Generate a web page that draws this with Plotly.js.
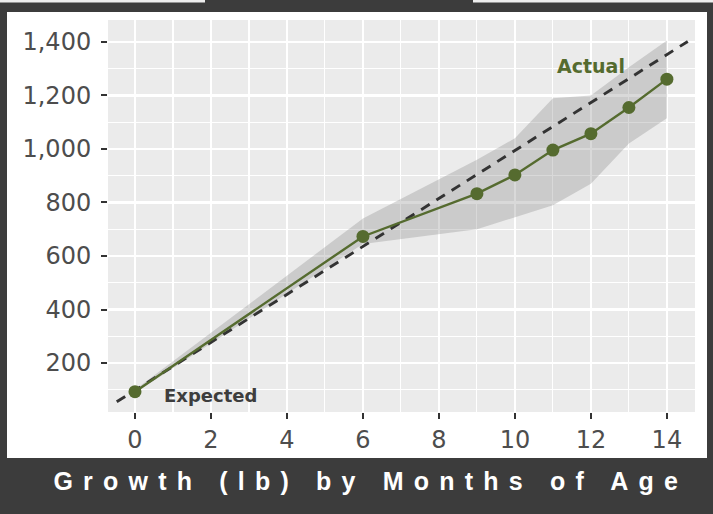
<!DOCTYPE html>
<html>
<head>
<meta charset="utf-8">
<script src="https://cdn.plot.ly/plotly-3.0.1.min.js"></script>
<style>
  html, body { margin: 0; padding: 0; background: #3c3c3c; }
  #chart { width: 713px; height: 514px; }
  .gtitle { letter-spacing: 10.2px; }
</style>
</head>
<body>
<div id="chart"></div>
<script>
// ---- data ----
const months = [0, 6, 9, 10, 11, 12, 13, 14];
const actualLb = [93, 673, 833, 903, 996, 1057, 1155, 1261];
const bandUpperLb = [100, 740, 960, 1040, 1190, 1200, 1305, 1405];
const bandLowerLb = [88, 645, 700, 745, 790, 870, 1020, 1115];
const expectedMonths = [-0.48, 14.55];
const expectedLb = [55, 1402];
const xTickVals = [0, 2, 4, 6, 8, 10, 12, 14];
const yTickVals = [200, 400, 600, 800, 1000, 1200, 1400];
const chartTitle = "Growth (lb) by Months of Age";
const actualLabel = "Actual";
const expectedLabel = "Expected";

const green = "#556b2f";

const traces = [
  { x: months, y: bandLowerLb, type: "scatter", mode: "lines",
    line: { width: 0, color: "rgba(0,0,0,0)" }, hoverinfo: "skip", showlegend: false },
  { x: months, y: bandUpperLb, type: "scatter", mode: "lines", fill: "tonexty",
    fillcolor: "rgba(128,128,128,0.3)",
    line: { width: 0, color: "rgba(0,0,0,0)" }, hoverinfo: "skip", showlegend: false },
  { x: expectedMonths, y: expectedLb, type: "scatter", mode: "lines",
    line: { color: "#333333", width: 2.9, dash: "10px,8px" }, showlegend: false },
  { x: months, y: actualLb, type: "scatter", mode: "lines+markers",
    line: { color: green, width: 2.4 },
    marker: { color: green, size: 13 }, showlegend: false }
];

const W = 713, H = 514, ml = 108, mr = 18, mt = 20, mb = 102;
const pw = W - ml - mr, ph = H - mt - mb;
const px = v => (v - ml) / pw;
const py = v => (H - mb - v) / ph;

const layout = {
  width: W, height: H,
  margin: { l: ml, r: mr, t: mt, b: mb, pad: 0 },
  paper_bgcolor: "#3c3c3c",
  plot_bgcolor: "rgba(0,0,0,0)",
  showlegend: false,
  font: { family: "DejaVu Sans", color: "#4d4d4d" },
  title: {
    text: chartTitle,
    font: { family: "Liberation Sans", size: 25, weight: 700, color: "#ffffff" },
    xref: "container", yref: "container",
    x: 0.52, xanchor: "center", y: 0.064, yanchor: "middle"
  },
  xaxis: {
    range: [-0.71, 14.74], tickvals: xTickVals, ticks: "outside", ticklen: 6, tickwidth: 2,
    tickcolor: "#333333", tickfont: { size: 24, color: "#4d4d4d", family: "DejaVu Sans" },
    showgrid: true, gridcolor: "#ffffff", gridwidth: 2.2,
    minor: { dtick: 1, tick0: 1, showgrid: true, gridcolor: "#ffffff", gridwidth: 1.1, ticks: "" },
    zeroline: false, showline: false, fixedrange: true
  },
  yaxis: {
    range: [17, 1482], tickvals: yTickVals, tickformat: ",d", ticks: "outside", ticklen: 6, tickwidth: 2,
    tickcolor: "#333333", tickfont: { size: 24, color: "#4d4d4d", family: "DejaVu Sans" },
    ticklabelstandoff: 5,
    showgrid: true, gridcolor: "#ffffff", gridwidth: 2.2,
    minor: { dtick: 100, tick0: 100, showgrid: true, gridcolor: "#ffffff", gridwidth: 1.1, ticks: "" },
    zeroline: false, showline: false, fixedrange: true
  },
  shapes: [
    { type: "rect", xref: "paper", yref: "paper", layer: "below",
      x0: px(7), x1: px(707), y0: py(458), y1: py(12),
      fillcolor: "#ffffff", line: { width: 0 } },
    { type: "rect", xref: "x domain", yref: "y domain", layer: "below",
      x0: 0, x1: 1, y0: 0, y1: 1, fillcolor: "#ebebeb", line: { width: 0 } },
    { type: "rect", xref: "paper", yref: "paper", layer: "below",
      x0: px(0), x1: px(205), y0: py(2.5), y1: py(0),
      fillcolor: "#eeeeee", line: { width: 0 } },
    { type: "rect", xref: "paper", yref: "paper", layer: "below",
      x0: px(473), x1: px(713), y0: py(2.5), y1: py(0),
      fillcolor: "#eeeeee", line: { width: 0 } }
  ],
  annotations: [
    { x: 12, y: 1310, xref: "x", yref: "y", text: actualLabel, showarrow: false,
      font: { family: "DejaVu Sans", size: 19, weight: 700, color: green } },
    { x: 2, y: 80, xref: "x", yref: "y", text: expectedLabel, showarrow: false,
      font: { family: "DejaVu Sans", size: 18, weight: 700, color: "#3d3d3d" } }
  ]
};

Plotly.newPlot("chart", traces, layout, { staticPlot: true, displayModeBar: false });
</script>
</body>
</html>
